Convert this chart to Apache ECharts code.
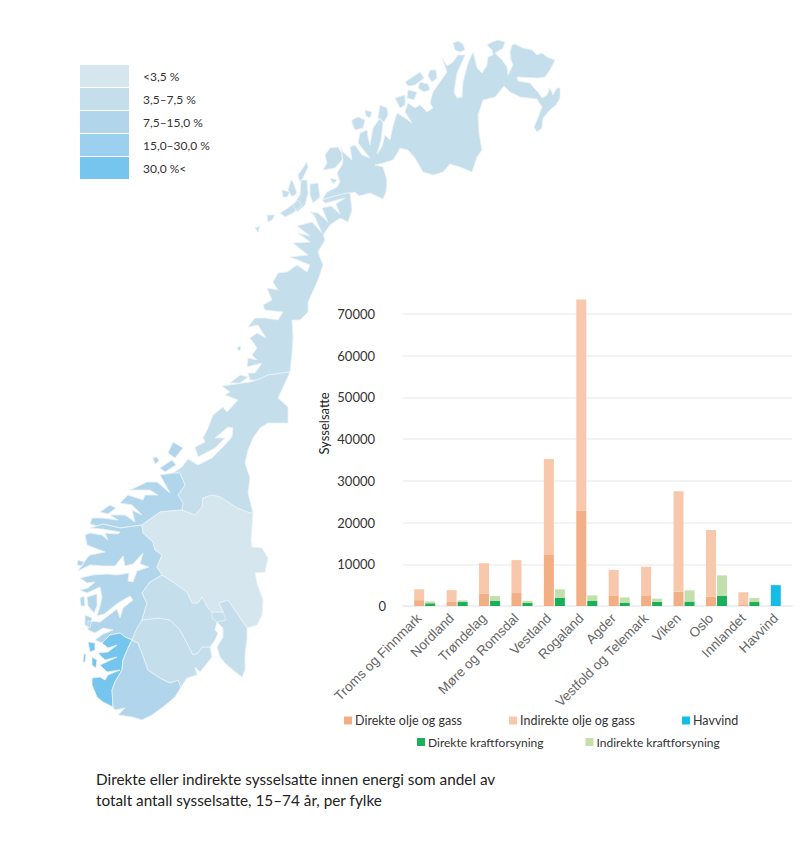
<!DOCTYPE html>
<html lang="no">
<head>
<meta charset="utf-8">
<title>Sysselsatte innen energi</title>
<script src="https://cdn.jsdelivr.net/npm/echarts@6/dist/echarts.min.js"></script>
<style>
  html, body { margin: 0; padding: 0; background: #fff; }
  #chart { width: 800px; height: 848px; }
</style>
</head>
<body>
<div id="chart"></div>
<script>
/* ---------------------- Data ---------------------- */
const fylker = ["Troms og Finnmark", "Nordland", "Trøndelag", "Møre og Romsdal", "Vestland", "Rogaland", "Agder", "Vestfold og Telemark", "Viken", "Oslo", "Innlandet", "Havvind"];
const direkteOlje = [1400, 1100, 2900, 3100, 12250, 22900, 2400, 2400, 3400, 2200, 400, null];
const indirekteOlje = [2600, 2700, 7350, 7900, 22950, 50550, 6250, 7000, 24100, 16000, 2900, null];
const havvind = [null, null, null, null, null, null, null, null, null, null, null, 5000];
const direkteKraft = [650, 950, 1200, 750, 2000, 1200, 800, 1000, 1050, 2400, 950, null];
const indirekteKraft = [450, 400, 1200, 500, 2000, 1350, 1250, 750, 2700, 4950, 950, null];

// andel sysselsatte per fylke (%), anslått ut fra fargeklassen i kartet
const kartFylker = ["Troms og Finnmark", "Nordland", "Trøndelag", "Møre og Romsdal", "Vestland", "Rogaland", "Agder", "Vestfold og Telemark", "Viken", "Oslo", "Innlandet"];
const andel = [5, 5, 5, 10, 12, 32, 10, 6, 6, 6, 3];

const klasseGrenser = [0, 3.5, 7.5, 15, 30, 100];
const klasseTekster = ["<3,5 %", "3,5–7,5 %", "7,5–15,0 %", "15,0–30,0 %", "30,0 %<"];
const klasseFarger = ["#D6E6EF", "#C4DEEC", "#B1D6EC", "#9DD0EE", "#75C5EE"];

/* ---------------------- Kartomriss (tegnet for hånd, x,y) ---------------------- */
const omriss = {
  "Troms og Finnmark": [
    "350,193 355,192 359,196 370,193 383,199 386,192 387,180 383,167 375,165 383,163 393,160 398,152 400,148 408,150 415,158 423,172 433,175 443,172 450,164 460,167 472,172 477,157 482,150 479,133 478,115 483,100 495,97 504,86 510,92 520,97 537,99 542,107 537,120 534,127 537,132 542,128 543,118 550,110 556,105 560,98 560,88 557,88 553,95 550,88 547,95 542,98 538,92 535,89 530,83 518,81 517,77 537,78 545,77 550,70 555,60 547,57 542,53 537,55 532,50 523,48 515,44 512,45 510,52 511,60 513,65 508,75 507,67 502,60 495,53 503,48 505,42 498,40 492,42 487,45 492,50 493,55 488,57 487,65 482,73 477,68 473,52 468,63 463,82 462,97 457,98 454,92 457,73 463,60 465,55 458,55 453,62 447,66 442,58 447,72 440,82 433,92 430,103 433,108 427,112 420,105 415,108 408,103 405,112 412,123 405,118 397,113 393,126 390,140 385,135 382,147 377,154 381,140 383,123 380,118 373,128 370,145 368,137 367,130 360,133 358,143 370,158 362,155 355,145 350,147 352,160 343,152 341,147 343,160 342,165 337,173 340,182 337,187 327,192 322,200 335,196 347,193",
    "453,43 458,41 463,44 465,50 460,52 455,50",
    "405,82 420,72 424,78 415,85 408,86",
    "430,70 436,70 437,78 432,82 428,76",
    "420,82 428,84 430,90 424,92 418,88",
    "408,90 417,92 414,100 407,98",
    "395,98 405,95 405,105 400,108",
    "380,105 387,108 388,115 384,122 378,118",
    "352,120 358,117 365,120 363,128 355,130 352,123",
    "365,110 372,112 370,118 366,116",
    "325,155 330,148 338,147 342,153 342,160 335,168 323,170 327,163"
  ],
  "Nordland": [
    "322,200 335,196 347,193 350,193 352,210 348,222 340,218 330,225 323,235 325,240 318,252 323,265 318,280 308,302 308,312 300,320 292,320 293,337 292,353 290,372 268,375 257,380 250,380 248,373 255,373 262,363 247,367 248,358 257,360 252,355 257,348 250,338 257,333 266,338 258,325 248,327 255,318 265,318 278,320 283,312 265,310 263,305 272,300 267,288 278,290 273,282 278,273 287,272 297,265 307,272 310,265 290,257 308,255 293,243 310,242 298,233 310,236 297,226 312,222 322,233 314,215 310,212 318,213 328,222 322,208 331,206 340,214 336,204 345,198 325,203",
    "298,175 307,162 308,167 303,178 300,182",
    "291,180 293,182 297,193 292,197 288,190",
    "301,180 307,180 308,193 305,205 297,212 293,205 300,195",
    "310,184 318,183 320,197 313,203 310,195",
    "282,190 290,192 287,197 283,197",
    "280,213 288,208 298,200 302,205 293,213 285,217",
    "267,215 275,215 272,220 268,222",
    "255,228 260,226 258,232",
    "330,178 337,180 333,184",
    "237,348 240,346 241,349 239,351",
    "230,383 240,375 248,377 240,383"
  ],
  "Trøndelag": [
    "250,382 222,386 230,392 225,395 238,400 227,412 223,407 213,415 208,428 203,438 205,442 195,447 198,457 215,448 225,438 215,438 228,427 233,428 232,437 222,448 212,458 198,465 188,459 182,467 173,473 180,473 185,485 178,495 183,503 182,510 195,515 202,507 203,498 212,495 220,497 228,502 237,508 250,513 253,513 248,493 250,478 245,463 248,450 253,438 260,428 268,423 288,423 288,407 278,398 285,383 290,372 268,375 257,380"
  ],
  "Møre og Romsdal": [
    "142,525 160,512 182,510 183,503 178,495 185,485 180,473 173,473 160,475 170,493 157,482 147,482 130,490 150,490 158,495 145,495 143,500 128,495 120,503 132,505 142,515 132,510 135,522 125,515 110,515 118,520 102,518 92,518 90,524 97,526 103,524 120,528",
    "168,453 173,442 183,448 175,458",
    "160,468 172,460 176,465 165,472",
    "153,458 157,457 159,461 155,464",
    "100,512 110,505 116,508 108,514"
  ],
  "Vestland": [
    "142,525 143,533 153,542 155,550 162,555 157,567 162,575 150,582 142,593 147,603 142,620 132,640 125,637 120,633 110,635 102,643 95,640 103,634 113,630 103,628 95,633 88,630 88,621 100,622 117,609 120,618 123,608 133,600 130,596 118,603 104,614 97,616 100,606 102,597 100,587 87,593 80,590 88,588 95,582 87,583 80,578 93,575 107,574 117,575 129,573 128,581 133,582 137,571 149,567 140,564 143,553 133,564 125,566 123,556 115,566 103,566 90,565 78,571 87,558 90,555 105,552 92,547 87,545 85,535 90,533 102,535 108,540 105,533 118,534 120,532 102,529 90,528 97,526 103,524 120,528",
    "80,598 84,596 85,606 81,606",
    "87,597 97,594 97,606 94,613 88,606",
    "85,615 92,618 90,628 85,625",
    "78,560 84,562 82,566 77,565"
  ],
  "Rogaland": [
    "102,643 110,635 120,633 125,637 132,640 128,648 123,660 122,670 115,682 112,690 113,707 103,702 97,697 92,685 92,678 100,677 105,680 108,675 120,670 107,672 100,665 117,657 105,660 98,653 108,652 117,645 108,648",
    "88,642 95,643 95,650 90,652",
    "84,654 86,654 85,662 83,662",
    "92,657 97,660 96,668 92,665"
  ],
  "Agder": [
    "132,640 138,643 142,653 148,670 160,678 170,683 178,680 181,687 175,697 163,707 152,715 142,720 132,717 118,715 125,708 115,710 113,707 112,690 115,682 122,670 123,660 128,648"
  ],
  "Vestfold og Telemark": [
    "132,640 137,628 142,620 158,618 170,620 180,630 187,643 193,655 198,653 202,647 210,647 212,657 200,672 195,667 197,675 187,678 181,687 178,680 170,683 160,678 148,670 142,653 138,643"
  ],
  "Viken": [
    "162,575 173,582 187,592 192,603 198,603 202,597 208,608 212,612 223,612 219,603 228,600 237,613 247,628 247,640 245,653 245,670 242,677 233,670 225,663 220,657 217,647 223,637 223,628 217,622 215,630 218,633 215,640 210,647 202,647 198,653 193,655 187,643 180,630 170,620 158,618 142,620 147,603 142,593 150,582"
  ],
  "Oslo": [
    "212,612 223,612 226,620 217,622 212,618"
  ],
  "Innlandet": [
    "142,525 160,512 182,510 195,515 202,507 203,498 212,495 220,497 228,502 237,508 250,513 253,513 251,540 252,547 262,548 268,558 265,572 255,573 257,583 263,600 262,615 257,625 247,628 237,613 228,600 219,603 223,612 212,612 208,608 202,597 198,603 192,603 187,592 173,582 162,575 157,567 162,555 155,550 153,542 143,533"
  ]
};

function lesRing(tekst) {
  return tekst.split(" ").map(p => {
    const [x, y] = p.split(",").map(Number);
    return [x, -y];   // geo-y peker oppover
  });
}

const features = kartFylker.map(navn => ({
  type: "Feature",
  properties: { name: navn },
  geometry: { type: "MultiPolygon", coordinates: omriss[navn].map(r => [lesRing(r)]) },
}));

// kartets ramme på siden
const allePunkter = features.flatMap(f => f.geometry.coordinates.flatMap(p => p[0]));
const minX = Math.min(...allePunkter.map(p => p[0]));
const maxX = Math.max(...allePunkter.map(p => p[0]));
const minY = Math.min(...allePunkter.map(p => -p[1]));
const maxY = Math.max(...allePunkter.map(p => -p[1]));

echarts.registerMap("norge", { type: "FeatureCollection", features });

/* ---------------------- Diagram ---------------------- */
const FONT = "Lato";
const AKSE_FONT = "Liberation Sans";

function stolpe(navn, data, stack, farge) {
  return {
    name: navn, type: "bar", data, stack,
    barWidth: 10, barGap: "10%",
    itemStyle: { color: farge },
    silent: true,
  };
}

const chart = echarts.init(document.getElementById("chart"), null, { renderer: "svg" });

chart.setOption({
  animation: false,
  backgroundColor: "#fff",
  textStyle: { fontFamily: FONT },
  title: {
    text: "Direkte eller indirekte sysselsatte innen energi som andel av\ntotalt antall sysselsatte, 15–74 år, per fylke",
    left: 96, top: 768, padding: 0,
    textStyle: { fontFamily: FONT, fontSize: 15.3, fontWeight: "normal", color: "#222", lineHeight: 21 },
  },
  visualMap: {
    type: "piecewise", seriesIndex: 0, orient: "vertical", inverse: true,
    left: 80, top: 65, padding: 0,
    itemWidth: 49, itemHeight: 22, itemGap: 1, textGap: 14, itemSymbol: "rect",
    hoverLink: false, selectedMode: false,
    textStyle: { fontFamily: FONT, fontSize: 12, color: "#333" },
    pieces: klasseTekster.map((t, i) => ({ gte: klasseGrenser[i], lt: klasseGrenser[i + 1], label: t, color: klasseFarger[i] })),
  },
  legend: [
    {
      data: ["Direkte olje og gass", "Indirekte olje og gass", "Havvind"],
      left: 344, top: 714, padding: 0, itemWidth: 8, itemHeight: 8, itemGap: 47, icon: "rect",
      selectedMode: false,
      textStyle: { fontFamily: FONT, fontSize: 12.5, color: "#333", padding: [0, 0, 0, -2] },
    },
    {
      data: ["Direkte kraftforsyning", "Indirekte kraftforsyning"],
      left: 417, top: 736, padding: 0, itemWidth: 8, itemHeight: 8, itemGap: 42, icon: "rect",
      selectedMode: false,
      textStyle: { fontFamily: FONT, fontSize: 12, color: "#333", padding: [0, 0, 0, -2] },
    },
  ],
  grid: { left: 403, right: 8, top: 293, bottom: 242, containLabel: false },
  xAxis: {
    type: "category", data: fylker,
    axisTick: { show: false },
    axisLine: { lineStyle: { color: "#EFEFEF", width: 2 } },
    axisLabel: { rotate: 45, interval: 0, margin: 10, fontFamily: AKSE_FONT, fontSize: 13.5, color: "#666" },
  },
  yAxis: {
    type: "value", min: 0, max: 75000, interval: 10000,
    name: "Sysselsatte", nameLocation: "middle", nameGap: 73, nameRotate: 90,
    nameTextStyle: { fontFamily: FONT, fontSize: 13, color: "#222", padding: [0, 0, 0, 52] },
    axisLine: { show: false }, axisTick: { show: false },
    splitLine: { showMaxLine: false, lineStyle: { color: "#EFEFEF", width: 1.5 } },
    axisLabel: {
      margin: 17, showMaxLabel: false, fontFamily: FONT, fontSize: 13, color: "#333",
      formatter: v => (v === 0 ? "0" : `{p|${v}}`),
      rich: { p: { padding: [0, 11, 0, 0], fontFamily: FONT, fontSize: 13, color: "#333" } },
    },
  },
  series: [
    {
      type: "map", map: "norge", aspectScale: 1, roam: false, silent: true,
      left: minX, top: minY, width: maxX - minX, height: maxY - minY,
      showLegendSymbol: false,
      label: { show: false },
      itemStyle: { borderColor: "#EAF3F8", borderWidth: 0.8 },
      emphasis: { disabled: true },
      select: { disabled: true },
      data: kartFylker.map((navn, i) => ({ name: navn, value: andel[i] })),
    },
    // tom kolonne: holder oljestolpen midt i kategorien, kraftstolpen til høyre
    stolpe("", fylker.map(() => null), "tom", "#fff"),
    stolpe("Direkte olje og gass", direkteOlje, "olje", "#F2AE84"),
    stolpe("Indirekte olje og gass", indirekteOlje, "olje", "#F7C8AB"),
    stolpe("Havvind", havvind, "olje", "#14BCE6"),
    stolpe("Direkte kraftforsyning", direkteKraft, "kraft", "#1BAE5B"),
    stolpe("Indirekte kraftforsyning", indirekteKraft, "kraft", "#C3E0AC"),
  ],
});
</script>
</body>
</html>
